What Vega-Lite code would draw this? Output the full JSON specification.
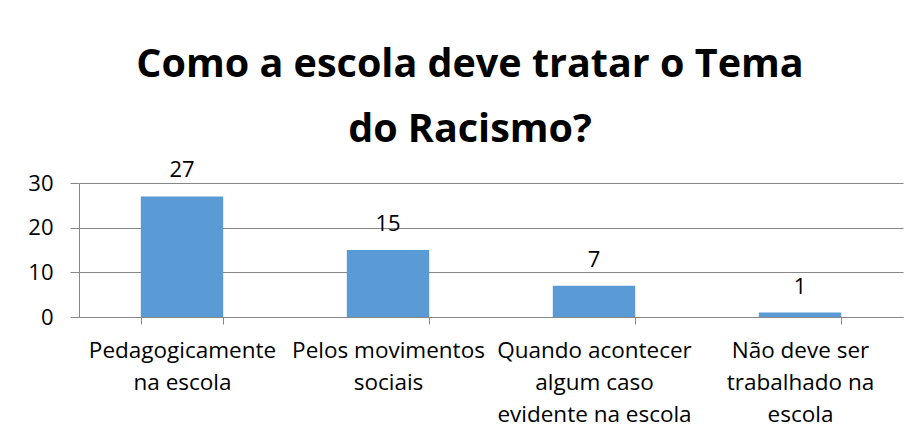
{
  "$schema": "https://vega.github.io/schema/vega-lite/v6.json",
  "autosize": "none",
  "width": 824,
  "height": 134,
  "padding": {"left": 79, "top": 183, "right": 17, "bottom": 124},
  "background": "white",
  "config": {"view": {"stroke": null}, "font": "Open Sans"},
  "title": {
    "text": ["Como a escola deve tratar o Tema", "do Racismo?"],
    "font": "Open Sans",
    "fontSize": 39.5,
    "fontWeight": "bold",
    "color": "#000000",
    "lineHeight": 65,
    "anchor": "middle",
    "dx": -21,
    "offset": 9
  },
  "data": {
    "values": [
      {"categoria": "Pedagogicamente|na escola", "valor": 27},
      {"categoria": "Pelos movimentos|sociais", "valor": 15},
      {"categoria": "Quando acontecer|algum caso|evidente na escola", "valor": 7},
      {"categoria": "Não deve ser|trabalhado na|escola", "valor": 1}
    ]
  },
  "encoding": {
    "x": {
      "field": "categoria",
      "type": "nominal",
      "sort": null,
      "scale": {"paddingInner": 0.6, "paddingOuter": 0.3},
      "axis": {
        "title": null,
        "labelAngle": 0,
        "labelExpr": "split(datum.label, '|')",
        "labelFont": "Open Sans",
        "labelFontSize": 22.5,
        "labelColor": "#000000",
        "labelLineHeight": 32,
        "labelLimit": 0,
        "labelPadding": 15,
        "labelBaseline": "top",
        "tickBand": "extent",
        "tickSize": 7,
        "tickColor": "#878787",
        "domainColor": "#878787",
        "grid": false
      }
    },
    "y": {
      "field": "valor",
      "type": "quantitative",
      "scale": {"domain": [0, 30], "nice": false},
      "axis": {
        "title": null,
        "values": [0, 10, 20, 30],
        "labelFont": "Open Sans",
        "labelFontSize": 22,
        "labelColor": "#000000",
        "labelPadding": 17,
        "tickSize": 9,
        "tickColor": "#878787",
        "domainColor": "#878787",
        "gridColor": "#878787",
        "grid": true
      }
    }
  },
  "layer": [
    {"mark": {"type": "bar", "color": "#5B9BD5"}},
    {
      "mark": {"type": "text", "font": "Open Sans", "fontSize": 22, "color": "#000000", "baseline": "alphabetic", "dy": -19},
      "encoding": {"text": {"field": "valor", "type": "quantitative"}}
    }
  ]
}
